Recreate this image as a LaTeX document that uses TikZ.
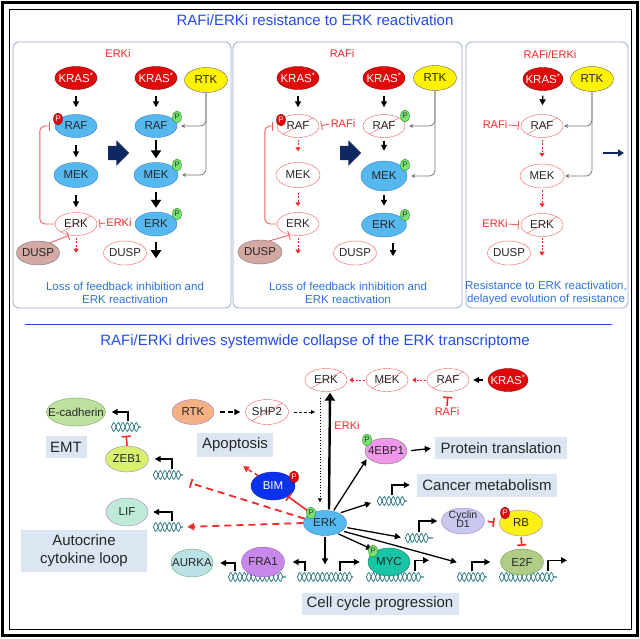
\documentclass[tikz,border=0pt]{standalone}
\usepackage{fontspec}
\setmainfont{Liberation Sans}
\usetikzlibrary{arrows.meta,shapes.geometric,shapes.arrows,decorations.pathmorphing}

\definecolor{titleblue}{RGB}{35,75,235}
\definecolor{capblue}{RGB}{45,115,215}
\definecolor{drugred}{RGB}{245,40,40}
\definecolor{offred}{RGB}{240,95,95}
\definecolor{molblue}{RGB}{85,185,240}
\definecolor{molline}{RGB}{50,130,200}
\definecolor{krasred}{RGB}{225,10,10}
\definecolor{duspfill}{RGB}{212,168,163}
\definecolor{navy}{RGB}{15,40,95}
\definecolor{boxfill}{RGB}{220,230,242}
\definecolor{dnateal}{RGB}{35,115,125}
\definecolor{panelline}{RGB}{150,170,200}
\definecolor{pgfill}{RGB}{120,230,110}
\definecolor{pgline}{RGB}{40,140,40}
\definecolor{lilac}{RGB}{165,125,200}
\definecolor{rtkorange}{RGB}{244,177,131}
\definecolor{ecadfill}{RGB}{190,225,160}
\definecolor{ecadline}{RGB}{105,165,85}
\definecolor{zebfill}{RGB}{215,240,110}
\definecolor{liffill}{RGB}{190,235,215}
\definecolor{aurfill}{RGB}{185,225,230}
\definecolor{aurline}{RGB}{100,170,120}
\definecolor{frafill}{RGB}{200,135,235}
\definecolor{fraline}{RGB}{150,90,190}
\definecolor{mycfill}{RGB}{25,195,165}
\definecolor{mycline}{RGB}{20,130,110}
\definecolor{e2ffill}{RGB}{175,205,135}
\definecolor{e2fline}{RGB}{120,155,80}
\definecolor{cycfill}{RGB}{200,200,240}
\definecolor{rbfill}{RGB}{250,240,20}
\definecolor{ebpfill}{RGB}{240,150,235}
\definecolor{ebpline}{RGB}{90,140,80}
\definecolor{bimblue}{RGB}{10,50,235}

\tikzset{
  zerowd/.style={execute at begin node={\hbox to 0pt\bgroup\hss}, execute at end node={\hss\egroup}},
  mol/.style={ellipse, draw, inner sep=0pt, minimum width=42pt, minimum height=23pt, text=black!85, font=\fontsize{11.5}{12}\selectfont, zerowd},
  blue mol/.style={mol, fill=molblue, draw=molline},
  kras/.style={mol, fill=krasred, draw=krasred!60!black, text=white},
  rtk/.style={mol, fill=yellow, draw=black!60, minimum width=43pt, minimum height=25pt},
  dusp/.style={mol, fill=duspfill, draw=black!55, minimum width=43pt, minimum height=24pt},
  hollow/.style={mol, fill=white, draw=offred},
  crossed/.style={hollow, path picture={\draw[offred] (path picture bounding box.south west) -- (path picture bounding box.north east);}},
  pgreen/.style={ellipse, draw=pgline, fill=pgfill, inner sep=0pt, minimum width=9pt, minimum height=12pt, text=black!80, font=\fontsize{8}{8}\selectfont, zerowd},
  pred/.style={pgreen, draw=krasred!60!black, fill=krasred, text=white},
  drug/.style={text=drugred, inner sep=1pt, font=\fontsize{11}{12}\selectfont},
  captxt/.style={text=capblue, align=center, font=\fontsize{11.5}{12.5}\selectfont},
  heading/.style={text=titleblue, font=\fontsize{15}{17}\selectfont},
  panel/.style={draw=panelline, rounded corners=6pt, line width=0.8pt},
  fieldbox/.style={fill=boxfill, inner sep=0pt, minimum height=22pt, text=black!85, font=\fontsize{15}{18}\selectfont},
  dna/.style={minimum width=#1, minimum height=11pt, inner sep=0pt, path picture={
      \draw[dnateal, line width=0.7pt, decorate, decoration={snake, amplitude=4.5pt, segment length=9pt}]
        (path picture bounding box.west) -- (path picture bounding box.east);
      \draw[dnateal, line width=0.7pt, decorate, decoration={snake, amplitude=4.5pt, segment length=9pt, mirror}]
        (path picture bounding box.west) -- (path picture bounding box.east);}},
  bigarrow/.style={single arrow, fill=navy, inner sep=0pt, minimum height=21pt, single arrow head extend=5.5pt},
  blk/.style={-{Triangle[length=6pt,width=6pt]}, line width=1.3pt},
  blkbig/.style={-{Triangle[length=8pt,width=10pt]}, line width=2.6pt},
  rdarr/.style={-{Triangle[length=4pt,width=5pt]}, draw=drugred, line width=1pt, dash pattern=on 2pt off 1.5pt},
  fb/.style={-{Bar[width=9pt]}, draw=offred, line width=0.9pt},
  gline/.style={-{Stealth[length=4pt,width=4pt]}, draw=black!55, line width=0.7pt, rounded corners=6pt, shorten >=4pt},
  navyarr/.style={-{Triangle[length=6pt,width=7pt]}, draw=navy, line width=2pt},
  prom/.style={-{Triangle[length=6pt,width=6pt]}, line width=1.6pt},
  rinh/.style={-{Bar[width=9pt]}, draw=drugred, line width=1.6pt},
  rdlong/.style={-{Triangle[length=7pt,width=7pt]}, draw=drugred, line width=1.8pt, dash pattern=on 7pt off 5pt},
  rdinh/.style={-{Bar[width=9pt]}, draw=drugred, line width=1.8pt, dash pattern=on 7pt off 5pt},
  rdshort/.style={-{Triangle[length=6pt,width=6pt]}, draw=drugred, line width=1.5pt, dash pattern=on 4pt off 3pt},
  dasharr/.style={-{Triangle[length=6pt,width=6pt]}, line width=1.6pt, dash pattern=on 5pt off 3pt},
  dasharrb/.style={-{Triangle[length=4pt,width=4pt]}, line width=1pt, dash pattern=on 3pt off 2pt},
  dotarr/.style={-{Triangle[length=4pt,width=4pt]}, line width=0.8pt, dotted},
}

\begin{document}
\begin{tikzpicture}[x=1pt,y=-1pt]
\useasboundingbox (0,0) rectangle (640,638);
\draw[line width=2.2pt] (2.5,2.5) rectangle (637.5,635.5);
\draw[line width=0.9pt] (9,9) rectangle (631,629);

\node[heading] (top) at (315,20) {RAFi/ERKi resistance to ERK reactivation};
\draw[panel] (13,42) rectangle (231,308);
\draw[panel] (233,42) rectangle (462,308);
\draw[panel] (466,42) rectangle (628,308);

% ERKi panel
\node[drug] (lab1) at (118,54) {ERKi};
\node[kras] (kras1) at (76,78) {KRAS\textsuperscript{*}};
\node[blue mol] (raf1) at (76,126) {RAF};
\node[blue mol, minimum width=44pt, minimum height=25pt] (mek1) at (76,175) {MEK};
\node[crossed] (erk1) at (76,224) {ERK};
\node[dusp] (dusp1) at (38,253) {DUSP};
\node[pred] (pr1) at (58,119) {P};
\node[drug] (erki1) at (119,223) {ERKi};
\draw[blk, shorten <=6pt, shorten >=7pt] (kras1.south) -- (raf1.north);
\draw[blk, shorten <=7pt, shorten >=5pt] (raf1.south) -- (mek1.north);
\draw[blk, shorten <=7pt, shorten >=5pt] (mek1.south) -- (erk1.north);
\draw[fb, shorten >=2pt] (erki1.west) -- (erk1.east);
\draw[fb, rounded corners=5pt, shorten >=5pt] (erk1.west) -- ++(-15,0) |- (raf1.west);
\draw[fb, shorten >=1pt] (dusp1.40) -- (erk1.240);
\draw[rdarr] ([yshift=-2pt]erk1.south) -- ++(0,15);
\node[bigarrow] (go1) at (115,153) {\rule{0pt}{14pt}};

\node[kras] (kras1b) at (156,78) {KRAS\textsuperscript{*}};
\node[blue mol] (raf1b) at (156,126) {RAF};
\node[blue mol, minimum width=44pt, minimum height=25pt] (mek1b) at (156,175) {MEK};
\node[blue mol, minimum height=24pt] (erk1b) at (156,224) {ERK};
\node[hollow, minimum width=43pt, minimum height=24pt] (dusp1b) at (125,253) {DUSP};
\node[rtk] (rtk1) at (206,80) {RTK};
\node[pgreen] (pg1a) at (177,117) {P};
\node[pgreen] (pg1b) at (177,165) {P};
\node[pgreen] (pg1c) at (177,214) {P};
\draw[blk, shorten <=6pt, shorten >=7pt] (kras1b.south) -- (raf1b.north);
\draw[blkbig, shorten <=2pt, shorten >=4pt] (raf1b.south) -- (mek1b.north);
\draw[blkbig, shorten <=4pt, shorten >=4pt] (mek1b.south) -- (erk1b.north);
\draw[blkbig] ([yshift=-6pt]erk1b.south) -- ++(0,16);
\draw[gline] (rtk1.south) |- (raf1b.east);
\draw[gline] (rtk1.south) |- (mek1b.east);
\node[captxt] (c1) at (125,293) {Loss of feedback inhibition and\\ERK reactivation};

% RAFi panel
\node[drug] (lab2) at (342,54) {RAFi};
\node[kras] (kras2) at (298,78) {KRAS\textsuperscript{*}};
\node[crossed] (raf2) at (298,126) {RAF};
\node[hollow, minimum width=44pt, minimum height=25pt] (mek2) at (298,175) {MEK};
\node[hollow] (erk2) at (298,224) {ERK};
\node[dusp, minimum width=44pt] (dusp2) at (260,252) {DUSP};
\node[pred] (pr2) at (281,120) {P};
\node[drug] (rafi2) at (343,124) {RAFi};
\draw[blk, shorten <=6pt, shorten >=7pt] (kras2.south) -- (raf2.north);
\draw[rdarr, shorten <=2pt, shorten >=11pt] (raf2.south) -- (mek2.north);
\draw[rdarr, shorten <=5pt, shorten >=6pt] (mek2.south) -- (erk2.north);
\draw[rdarr] ([yshift=-2pt]erk2.south) -- ++(0,16);
\draw[fb, shorten >=2pt] (rafi2.west) -- (raf2.east);
\draw[fb, rounded corners=5pt, shorten >=4pt] (erk2.west) -- ++(-12,0) |- (raf2.west);
\draw[fb, shorten >=1pt] (dusp2.50) -- (erk2.235);
\node[bigarrow] (go2) at (347,153) {\rule{0pt}{14pt}};

\node[kras] (kras2b) at (384,78) {KRAS\textsuperscript{*}};
\node[crossed] (raf2b) at (384,126) {RAF};
\node[blue mol, minimum width=46pt, minimum height=30pt] (mek2b) at (384,176) {MEK};
\node[blue mol, minimum width=45pt, minimum height=24pt] (erk2b) at (384,225) {ERK};
\node[hollow, minimum width=43pt, minimum height=24pt] (dusp2b) at (355,253) {DUSP};
\node[rtk] (rtk2) at (435,78) {RTK};
\node[pgreen] (pg2a) at (405,116) {P};
\node[pgreen] (pg2b) at (405,165) {P};
\node[pgreen] (pg2c) at (405,215) {P};
\draw[blk, shorten <=6pt, shorten >=7pt] (kras2b.south) -- (raf2b.north);
\draw[blk, shorten <=3pt, shorten >=10pt] (raf2b.south) -- (mek2b.north);
\draw[blk, shorten <=4pt, shorten >=7pt] (mek2b.south) -- (erk2b.north);
\draw[blk] ([xshift=9pt,yshift=-6pt]erk2b.south) -- ++(0,13);
\draw[gline] (rtk2.south) |- (raf2b.east);
\draw[gline] (rtk2.south) |- (mek2b.east);
\node[captxt] (c2) at (348,293) {Loss of feedback inhibition and\\ERK reactivation};

% RAFi/ERKi panel
\node[drug] (lab3) at (550,55) {RAFi/ERKi};
\node[kras, minimum width=40pt] (kras3) at (543,79) {KRAS\textsuperscript{*}};
\node[rtk] (rtk3) at (592,79) {RTK};
\node[crossed] (raf3) at (542,126) {RAF};
\node[hollow, minimum width=44pt, minimum height=24pt] (mek3) at (542,176) {MEK};
\node[crossed] (erk3) at (542,225) {ERK};
\node[hollow, minimum width=43pt, minimum height=24pt] (dusp3) at (509,253) {DUSP};
\node[drug] (rafi3) at (495,125) {RAFi};
\node[drug] (erki3) at (495,224) {ERKi};
\draw[blk, shorten <=5pt, shorten >=9pt] (kras3.south) -- (raf3.north);
\draw[rdarr, shorten <=2pt, shorten >=7pt] (raf3.south) -- (mek3.north);
\draw[rdarr, shorten <=2pt, shorten >=6pt] (mek3.south) -- (erk3.north);
\draw[rdarr] ([yshift=-1pt]erk3.south) -- ++(0,18);
\draw[fb, shorten >=2pt] (rafi3.east) -- (raf3.west);
\draw[fb, shorten >=2pt] (erki3.east) -- (erk3.west);
\draw[gline, shorten >=1pt] (rtk3.south) |- (raf3.east);
\draw[gline, shorten >=1pt] (rtk3.south) |- (mek3.east);
\coordinate (go3) at (603,153);
\draw[navyarr] (go3) -- ++(21,0);
\node[captxt] (c3) at (546,293) {Resistance to ERK reactivation,\\delayed evolution of resistance};

\draw[titleblue, line width=0.8pt] (25,324) -- (612,324);
\node[heading] (bottom) at (315,342) {RAFi/ERKi drives systemwide collapse of the ERK transcriptome};

% upstream chain
\node[crossed] (erkT) at (326,380) {ERK};
\node[crossed] (mekT) at (387,380) {MEK};
\node[crossed] (rafT) at (448,380) {RAF};
\node[kras, minimum width=40pt] (krasT) at (508,380) {KRAS\textsuperscript{*}};
\node[drug] (rafiT) at (447,412) {RAFi};
\node[drug] (erkiT) at (347,426) {ERKi};
\draw[blk, shorten <=5pt, shorten >=4pt] (krasT.west) -- (rafT.east);
\draw[rdarr, shorten <=1pt, shorten >=4pt] (rafT.west) -- (mekT.east);
\draw[rdarr, shorten <=1pt, shorten >=2pt] (mekT.west) -- (erkT.east);
\draw[rinh, shorten <=1pt, shorten >=5pt] (rafiT.north) -- (rafT.south);

\node[mol, fill=rtkorange, draw=lilac, minimum height=25pt] (rtkB) at (193,412) {RTK};
\node[crossed, minimum width=43pt, minimum height=25pt] (shp2) at (267,412) {SHP2};
\node[fieldbox, minimum width=76pt, minimum height=24pt] (apop) at (235,445) {Apoptosis};
\node[mol, fill=bimblue, draw=bimblue!70!black, text=white, minimum width=44pt, minimum height=28pt] (bim) at (273,486) {BIM};
\node[blue mol, minimum width=43pt, minimum height=25pt] (erkC) at (325,523) {ERK};
\coordinate (dotT) at ([xshift=-6pt]erkT.south);
\draw[dotarr, shorten <=6pt, shorten >=8pt] (dotT) -- (dotT |- erkC.north);
\draw[blkbig, line width=2.4pt, shorten <=1pt, shorten >=1pt] ([xshift=4pt]erkC.north) -- ([xshift=4pt]erkT.south);
\draw[dasharr, shorten <=6pt, shorten >=5pt] (rtkB.east) -- (shp2.west);
\draw[dasharrb, shorten <=5pt, shorten >=5pt] (shp2.east) -- (shp2.east -| dotT);
\draw[rdshort] (bim.145) -- ([xshift=8pt,yshift=-9pt]apop.south);
\draw[rinh, shorten <=2pt] (erkC.145) -- (bim.-35);

% EMT and cytokine loop
\node[dna=30pt] (dEcad) at (126,427) {};
\node[dna=30pt] (dZeb) at (168,475) {};
\node[dna=30pt] (dLif) at (168,527) {};
\node[mol, fill=ecadfill, draw=ecadline, minimum width=59pt, minimum height=28pt] (ecad) at (76,412) {E-cadherin};
\node[mol, fill=zebfill, draw=lilac, minimum width=43pt, minimum height=26pt] (zeb) at (127,459) {ZEB1};
\node[mol, fill=liffill, draw=lilac, minimum height=28pt] (lif) at (127,512) {LIF};
\node[fieldbox, minimum width=41pt] (emt) at (66,447) {EMT};
\node[fieldbox, minimum width=126pt, minimum height=42pt, align=center] (loop) at (84,551) {Autocrine\\cytokine loop};
\draw[prom, shorten >=6pt] ([xshift=2pt]dEcad.north) |- (ecad.east);
\draw[prom, shorten >=6pt] ([xshift=4pt]dZeb.north) |- (zeb.east);
\draw[prom, shorten >=5pt] ([xshift=4pt]dLif.north) |- (lif.east);
\draw[rinh, shorten >=3pt] (zeb.north) -- (dEcad.south);
\draw[rdinh] (erkC.168) -- ([xshift=7pt,yshift=-8pt]dZeb.east);
\draw[rdlong, shorten >=4pt] (erkC.west) -- (dLif.east);

% translation and metabolism
\node[mol, fill=ebpfill, draw=ebpline, minimum height=26pt] (ebp) at (386,451) {4EBP1};
\node[fieldbox, minimum width=132pt] (prot) at (501,448) {Protein translation};
\node[dna=30pt] (dMet) at (392,501) {};
\node[fieldbox, minimum width=140pt, minimum height=23pt] (met) at (487,485) {Cancer metabolism};
\draw[blk, shorten <=1pt, shorten >=2pt] (erkC.55) -- (ebp.200);
\draw[blk, shorten <=4pt, shorten >=4pt] (ebp.east) -- (prot.west);
\draw[blk, shorten <=2pt, shorten >=6pt] (erkC.35) -- (dMet.west);
\draw[prom, shorten >=7pt] (dMet.north) |- (met.west);

% cell cycle
\node[dna=58pt] (dFra) at (257,577) {};
\node[dna=56pt] (dMid) at (325,577) {};
\node[dna=58pt] (dMyc) at (395,577) {};
\node[dna=30pt] (dPre) at (472,577) {};
\node[dna=58pt] (dE2f) at (528,577) {};
\node[dna=28pt] (dCyc) at (419,538) {};
\node[mol, fill=aurfill, draw=aurline, minimum height=28pt] (aur) at (192,563) {AURKA};
\node[mol, fill=frafill, draw=fraline, minimum width=43pt, minimum height=30pt] (fra) at (263,562) {FRA1};
\node[mol, fill=mycfill, draw=mycline, minimum height=28pt] (myc) at (389,562) {MYC};
\node[mol, fill=e2ffill, draw=e2fline, minimum width=43pt, minimum height=26pt] (e2f) at (522,562) {E2F};
\node[mol, fill=cycfill, draw=lilac, minimum width=43pt, minimum height=26pt, font=\fontsize{10.5}{10}\selectfont] (cyc) at (463,521) {\raisebox{-2.5pt}[0pt][0pt]{\begin{tabular}{@{}c@{}}Cyclin\\[-1pt]D1\end{tabular}}};
\node[mol, fill=rbfill, draw=lilac, minimum width=43pt, minimum height=26pt] (rb) at (521,523) {RB};
\node[fieldbox, minimum width=157pt] (cell) at (380,604) {Cell cycle progression};
\draw[blk, shorten <=1pt, shorten >=7pt] (erkC.south) -- (dMid.north);
\draw[prom, shorten >=8pt] ([xshift=15pt]dMid.north) |- (myc.west);
\draw[prom, shorten >=8pt] ([xshift=-20pt]dMid.north) |- (fra.east);
\draw[prom, shorten >=7pt] ([xshift=-22pt]dFra.north) |- (aur.east);
\draw[blk, shorten <=1pt, shorten >=4pt] (erkC.-40) -- (myc.140);
\draw[prom] ([xshift=20pt]dMyc.north) |- ++(14,-11);
\draw[blk, shorten <=2pt, shorten >=4pt] (erkC.-12) -- (dCyc.west);
\draw[prom, shorten >=4pt] (dCyc.north) |- (cyc.west);
\draw[rinh, shorten <=3pt, shorten >=5pt] (cyc.east) -- (rb.west);
\draw[rinh, shorten <=1pt, shorten >=3pt] (rb.south) -- (e2f.north);
\draw[blk, shorten <=2pt] (erkC.-25) -- ([yshift=9pt]dPre.north west);
\draw[prom, shorten >=10pt] (dPre.north) |- (e2f.west);
\draw[prom] ([xshift=20pt]dE2f.north) |- ++(19,-11);

\node[pred] (prB) at (294,477) {P};
\node[pgreen] (pgC) at (311,513) {P};
\node[pgreen] (pgE) at (367,440) {P};
\node[pgreen] (pgM) at (373,551) {P};
\node[pred] (prR) at (505,513) {P};
\end{tikzpicture}
\end{document}
